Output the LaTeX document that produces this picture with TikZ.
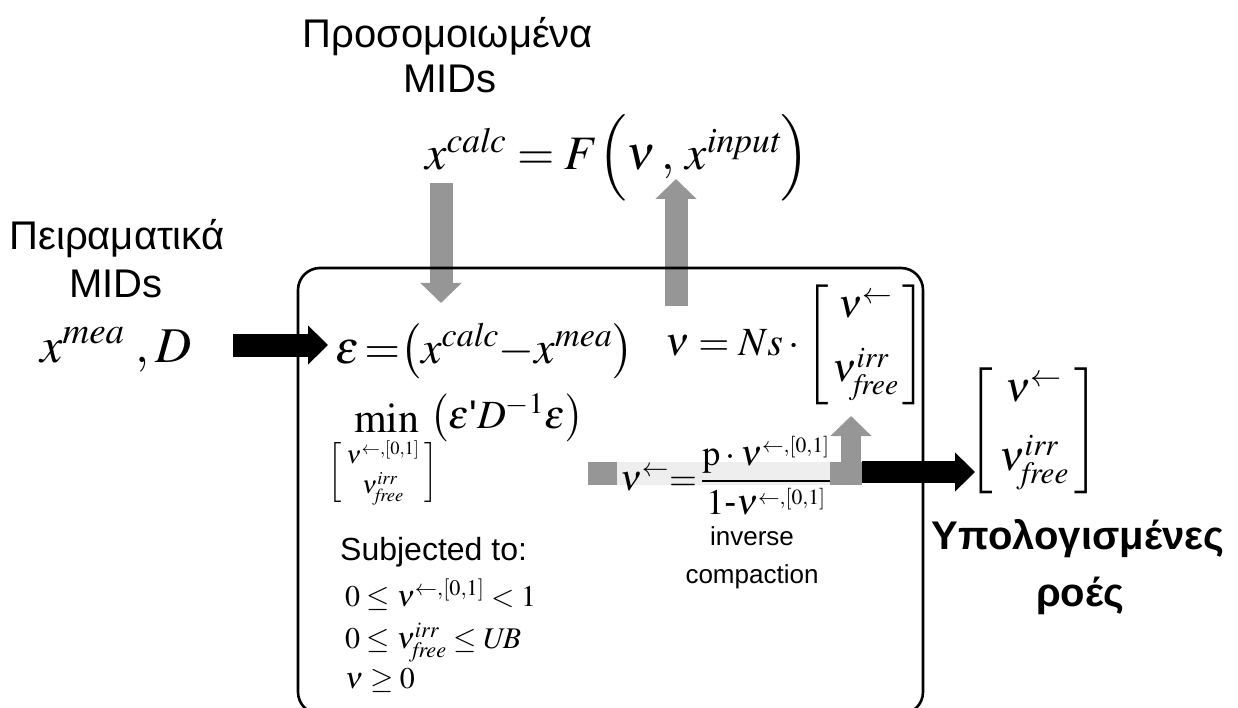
\documentclass[tikz,border=0pt]{standalone}
\usepackage{amsmath}
\usepackage{mathptmx}
\usepackage[no-math]{fontspec}
\setmainfont{Liberation Sans}
\usetikzlibrary{arrows.meta}
\definecolor{flowgray}{RGB}{150,150,150}
\definecolor{bandgray}{RGB}{238,238,238}
\newcommand{\fs}[1]{\fontsize{#1}{#1}\selectfont}
\newcommand{\cmpsup}{{\scriptscriptstyle\leftarrow,[0,1]}}
% column vector: #1 inner padding, #2 top entry, #3 height of lower row, #4 lower entry
\newcommand{\colvec}[4]{\left[\begin{array}{@{\hspace{#1}}c@{\hspace{#1}}}
  #2\\ \rule{0pt}{#3}#4\end{array}\right]}
\tikzset{
  lab/.style = {inner sep = 0pt, font = \fs{40}},
  eq/.style = {inner sep = 0pt, font = \fs{48}},
  cons/.style = {inner sep = 0pt, font = \fs{30}},
  blackflow/.style = {line width = 23pt, -{Triangle[length = 20pt, width = 38pt]}},
  grayflow/.style = {draw = flowgray, line width = 23pt,
    -{Triangle[length = 20pt, width = 40pt]}}
}
\begin{document}
\begin{tikzpicture}[x = 1pt, y = -1pt]
  \useasboundingbox (0,0) rectangle (1238,708);
  \clip (0,0) rectangle (1238,708);
  % labels
  \node [lab, anchor = base] (simname) at (448,48) {Προσομοιωμένα};
  \node [lab, anchor = base] (simmids) at (450,93) {MIDs};
  \node [lab, anchor = base] (expname) at (117,250) {Πειραματικά};
  \node [lab, anchor = base] (expmids) at (116,298) {MIDs};
  \node [lab, font = \fs{40}\bfseries, anchor = base] (resname)
    at (1078,549) {Υπολογισμένες};
  \node [lab, font = \fs{40}\bfseries, anchor = base] (resflows)
    at (1080,606) {ροές};
  % equations
  \node [eq, font = \fs{50}, anchor = base west] (xmea) at (40,362)
    {$x^{\mathit{mea}}\,\,, D$};
  \node [eq, anchor = base west] (xcalc) at (425,170)
    {$x^{\mathit{calc}} = F\Bigl(\nu\,,\,x^{\mathit{input}}\Bigr)$};
  \node [eq, font = \fs{46}, anchor = base west] (err) at (335,363)
    {$\epsilon\,{=}\bigl(x^{\mathit{calc}}{-}x^{\mathit{mea}}\bigr)$};
  \node [eq, font = \fs{40}, anchor = base west] (flux) at (665,355)
    {$\nu = Ns\cdot\colvec{4pt}{\nu^{\leftarrow}}{52pt}
      {\nu^{\mathit{irr}}_{\mathit{free}}}$};
  \node [eq, font = \fs{42}, anchor = base west] (minop) at (354,432) {$\min$};
  \node [eq, font = \fs{40}, anchor = base west] (objective) at (430,428)
    {$\bigl(\epsilon\text{\textquotesingle} D^{-1}\epsilon\bigr)$};
  \node [eq, font = \fs{25}] (minvar) at (383,473)
    {$\left[\begin{array}{c}\nu^{\leftarrow,[0,1]}\\[1pt]
      \nu^{\mathit{irr}}_{\mathit{free}}\end{array}\right]$};
  % compaction strip
  \fill [flowgray] (588,462) rectangle (617,485);
  \fill [bandgray] (617,462) rectangle (830,485);
  \fill [flowgray] (830,462) rectangle (862,485);
  \node [eq, font = \fs{36}, anchor = base west] (compact) at (620,490)
    {$\nu^{\leftarrow} {=}\, \dfrac{\mathrm{p}\cdot\nu^\cmpsup}{1\text{-}\nu^\cmpsup}$};
  \node [lab, font = \fs{26}, anchor = base] (inverse) at (752,545) {inverse};
  \node [lab, font = \fs{26}, anchor = base] (compaction) at (752,583)
    {compaction};
  % constraints
  \node [lab, font = \fs{32}, anchor = base west] (subj) at (340,560)
    {Subjected to:};
  \node [cons, anchor = base west] (lim1) at (345,606)
    {$0 \le \nu^{\leftarrow,[0,1]} < 1$};
  \node [cons, anchor = base west] (lim2) at (345,648)
    {$0 \le \nu^{\mathit{irr}}_{\mathit{free}} \le U\!B$};
  \node [cons, anchor = base west] (lim3) at (345,688) {$\nu \ge 0$};
  % result
  \node [eq, font = \fs{42}] (out) at (1034,431)
    {$\colvec{6pt}{\nu^{\leftarrow}}{56pt}{\nu^{\mathit{irr}}_{\mathit{free}}}$};
  % flows
  \coordinate (inL) at (233,345);  \coordinate (inR) at (328,345);
  \coordinate (dnT) at (441,183);  \coordinate (dnB) at (441,303);
  \coordinate (upB) at (676,306);  \coordinate (upT) at (676,179);
  \coordinate (cpB) at (851,485);  \coordinate (cpT) at (851,416);
  \coordinate (outL) at (862,472); \coordinate (outR) at (975,472);
  \draw [blackflow] (inL) -- (inR);
  \draw [grayflow] (dnT) -- (dnB);
  \draw [grayflow] (upB) -- (upT);
  \draw [grayflow, line width = 20pt] (cpB) -- (cpT);
  \draw [blackflow, line width = 22pt] (outL) -- (outR);
  % process box
  \draw [line width = 2.6pt, rounded corners = 22pt] (298,268) rectangle (923,714);
\end{tikzpicture}
\end{document}
